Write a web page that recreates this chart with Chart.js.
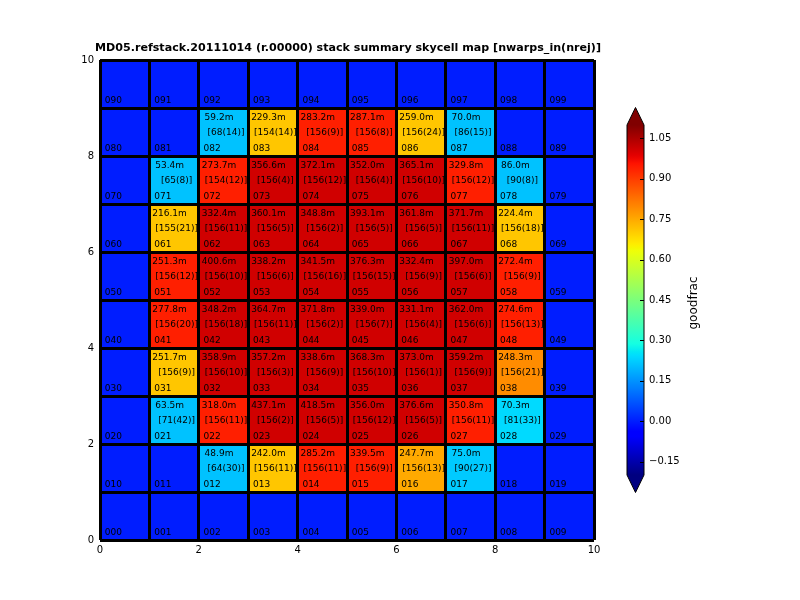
<!DOCTYPE html>
<html><head><meta charset="utf-8">
<script src="https://cdn.jsdelivr.net/npm/chart.js@4/dist/chart.umd.min.js"></script>
<style>
html,body{margin:0;padding:0;background:#fff;}
#wrap{position:relative;width:800px;height:600px;overflow:hidden;}
#main{position:absolute;left:0;top:0;}
#cbar{position:absolute;left:600px;top:0;}
</style></head><body>
<div id="wrap"><canvas id="main" width="800" height="600"></canvas><canvas id="cbar" width="200" height="600"></canvas></div>
<script>
// ---------- DATA (rows from bottom y=0 to top y=9, columns x=0..9) ----------
const titleText = 'MD05.refstack.20111014 (r.00000) stack summary skycell map [nwarps_in(nrej)]';
const gridCols = [0,1,2,3,4,5,6,7,8,9];
const gridRows = [0,1,2,3,4,5,6,7,8,9];
const cellEdges = [0,1,2,3,4,5,6,7,8,9,10];
const axisTicks = [0,2,4,6,8,10];
const N = null;
// stack size in "m"
const stackSize = [
  [N,N,N,N,N,N,N,N,N,N],
  [N,N,48.9,242.0,285.2,339.5,247.7,75.0,N,N],
  [N,63.5,318.0,437.1,418.5,356.0,376.6,350.8,70.3,N],
  [N,251.7,358.9,357.2,338.6,368.3,373.0,359.2,248.3,N],
  [N,277.8,348.2,364.7,371.8,339.0,331.1,362.0,274.6,N],
  [N,251.3,400.6,338.2,341.5,376.3,332.4,397.0,272.4,N],
  [N,216.1,332.4,360.1,348.8,393.1,361.8,371.7,224.4,N],
  [N,53.4,273.7,356.6,372.1,352.0,365.1,329.8,86.0,N],
  [N,N,59.2,229.3,283.2,287.1,259.0,70.0,N,N],
  [N,N,N,N,N,N,N,N,N,N]
];
const nWarpsIn = [
  [N,N,N,N,N,N,N,N,N,N],
  [N,N,64,156,156,156,156,90,N,N],
  [N,71,156,156,156,156,156,156,81,N],
  [N,156,156,156,156,156,156,156,156,N],
  [N,156,156,156,156,156,156,156,156,N],
  [N,156,156,156,156,156,156,156,156,N],
  [N,155,156,156,156,156,156,156,156,N],
  [N,65,154,156,156,156,156,156,90,N],
  [N,N,68,154,156,156,156,86,N,N],
  [N,N,N,N,N,N,N,N,N,N]
];
const nRej = [
  [N,N,N,N,N,N,N,N,N,N],
  [N,N,30,11,11,9,13,27,N,N],
  [N,42,11,2,5,12,5,11,33,N],
  [N,9,10,3,9,10,1,9,21,N],
  [N,20,18,11,2,7,4,6,13,N],
  [N,12,10,6,16,15,9,6,9,N],
  [N,21,11,5,2,5,5,11,18,N],
  [N,8,12,4,12,4,10,12,8,N],
  [N,N,14,14,9,8,24,15,N,N],
  [N,N,N,N,N,N,N,N,N,N]
];
// goodfrac (colour value)
const goodfrac = [
  [0,0,0,0,0,0,0,0,0,0],
  [0,0,0.21,0.71,0.94,0.94,0.75,0.22,0,0],
  [0,0.21,0.94,1.01,1.01,1.01,1.01,0.94,0.24,0],
  [0,0.71,1.01,1.01,1.01,1.01,1.01,1.01,0.79,0],
  [0,0.94,1.01,1.01,1.01,1.01,1.01,1.01,0.94,0],
  [0,0.94,1.01,1.01,1.01,1.01,1.01,1.01,0.94,0],
  [0,0.71,1.01,1.01,1.01,1.01,1.01,1.01,0.71,0],
  [0,0.21,0.94,1.01,1.01,1.01,1.01,0.94,0.21,0],
  [0,0,0.21,0.71,0.94,0.94,0.71,0.21,0,0],
  [0,0,0,0,0,0,0,0,0,0]
];
const cbMin = -0.2, cbMax = 1.1;
const cbTicks = [-0.15, 0.00, 0.15, 0.30, 0.45, 0.60, 0.75, 0.90, 1.05];
const cbLabel = 'goodfrac';

// ---------- jet colormap ----------
const jetSeg = {
  r: [[0,0],[0.35,0],[0.66,1],[0.89,1],[1,0.5]],
  g: [[0,0],[0.125,0],[0.375,1],[0.64,1],[0.91,0],[1,0]],
  b: [[0,0.5],[0.11,1],[0.34,1],[0.65,0],[1,0]]
};
function seg(s, t){
  if (t <= s[0][0]) return s[0][1];
  for (let i=1;i<s.length;i++){
    if (t <= s[i][0]){
      const [x0,y0]=s[i-1],[x1,y1]=s[i];
      return y0 + (y1-y0)*(t-x0)/(x1-x0);
    }
  }
  return s[s.length-1][1];
}
function jet(t){
  t = Math.max(0, Math.min(1, t));
  const r=Math.round(seg(jetSeg.r,t)*255), g=Math.round(seg(jetSeg.g,t)*255), b=Math.round(seg(jetSeg.b,t)*255);
  return `rgb(${r},${g},${b})`;
}
const norm = v => (v - cbMin)/(cbMax - cbMin);

Chart.defaults.font.family = '"DejaVu Sans", sans-serif';
Chart.defaults.color = '#000';

// ---------- main map ----------
const cells = [];
gridRows.forEach(r => gridCols.forEach(c => cells.push({x: c + 0.5, y: [r, r + 1], r, c})));

const cellText = {
  id: 'cellText',
  afterDatasetsDraw(chart){
    const {ctx, scales:{x, y}} = chart;
    ctx.save();
    ctx.font = '9px "DejaVu Sans"';
    ctx.fillStyle = '#000';
    gridRows.forEach(r => gridCols.forEach(c => {
      const L = x.getPixelForValue(c), R = x.getPixelForValue(c + 1);
      const T = y.getPixelForValue(r + 1), B = y.getPixelForValue(r);
      const cx = (L + R) / 2;
      ctx.textBaseline = 'alphabetic';
      if (stackSize[r][c] !== null){
        ctx.textAlign = 'center';
        ctx.fillText(stackSize[r][c].toFixed(1) + 'm', cx - 4.5, T + 12);
        ctx.fillText('[' + nWarpsIn[r][c] + '(' + nRej[r][c] + ')]', cx + 2.5, T + 26.5);
      }
      ctx.textAlign = 'left';
      ctx.fillText(String(r * 10 + c).padStart(3, '0'), L + 4.8, B - 5.3);
    }));
    ctx.restore();
  }
};

const edgeGrid = () => ({ display: true, offset: false, color: '#000', lineWidth: 3, drawTicks: false, z: 1 });

new Chart(document.getElementById('main'), {
  type: 'bar',
  data: { datasets: [{
    data: cells,
    backgroundColor: ctx => ctx.raw ? jet(norm(goodfrac[ctx.raw.r][ctx.raw.c])) : '#00f',
    borderWidth: 0,
    inflateAmount: 0.5,
    categoryPercentage: 1,
    barPercentage: 1,
    grouped: false
  }]},
  options: {
    responsive: false, animation: false,
    layout: { padding: { left: 0, right: 104, top: 0, bottom: 0 } },
    plugins: {
      legend: { display: false }, tooltip: { enabled: false },
      title: { display: true, text: titleText, fullSize: true, color: '#000',
        font: { family: '"DejaVu Sans"', size: 11.1, weight: 'bold' }, padding: { top: 41, bottom: 5.7 } }
    },
    scales: {
      x: { type: 'linear', min: 0, max: 10, offset: false,
        afterBuildTicks: s => { s.ticks = cellEdges.map(v => ({value: v})); },
        afterFit: s => { s.height = 60; },
        grid: edgeGrid(), border: { display: false },
        ticks: { padding: 4, color: '#000', font: { size: 10 }, autoSkip: false, maxRotation: 0,
          callback: v => axisTicks.includes(v) ? String(v) : '' } },
      y: { type: 'linear', min: 0, max: 10,
        afterBuildTicks: s => { s.ticks = cellEdges.map(v => ({value: v})); },
        afterFit: s => { s.width = 100; },
        grid: edgeGrid(), border: { display: false },
        ticks: { padding: 6, color: '#000', font: { size: 10 }, autoSkip: false,
          callback: v => axisTicks.includes(v) ? String(v) : '' } },
      // empty spacer axis reserving the gap between the map and the colour bar
      ySpacer: { type: 'linear', position: 'right', min: 0, max: 1,
        afterFit: s => { s.width = 102; },
        grid: { display: false, drawTicks: false }, border: { display: false },
        ticks: { display: false } }
    }
  },
  plugins: [cellText]
});

// ---------- colorbar ----------
const cbDecor = {
  id: 'cbDecor',
  afterDatasetsDraw(chart){
    const {ctx, chartArea:a, scales:{y}} = chart;
    const L = a.left, R = a.right, cx = (L + R) / 2;
    const T = y.getPixelForValue(cbMax), B = y.getPixelForValue(cbMin);
    const ext = 0.05 * (B - T);
    ctx.save();
    ctx.fillStyle = jet(1);
    ctx.beginPath(); ctx.moveTo(L, T); ctx.lineTo(R, T); ctx.lineTo(cx, T - ext); ctx.closePath(); ctx.fill();
    ctx.fillStyle = jet(0);
    ctx.beginPath(); ctx.moveTo(L, B); ctx.lineTo(R, B); ctx.lineTo(cx, B + ext); ctx.closePath(); ctx.fill();
    ctx.strokeStyle = '#000'; ctx.lineWidth = 1;
    ctx.beginPath();
    ctx.moveTo(L, B); ctx.lineTo(L, T); ctx.lineTo(cx, T - ext); ctx.lineTo(R, T); ctx.lineTo(R, B); ctx.lineTo(cx, B + ext); ctx.closePath();
    ctx.stroke();
    cbTicks.forEach(v => {
      const py = Math.round(y.getPixelForValue(v)) + 0.5;
      ctx.beginPath(); ctx.moveTo(R - 4, py); ctx.lineTo(R, py); ctx.stroke();
    });
    ctx.translate(R + 50, (T + B) / 2 + 3);
    ctx.rotate(-Math.PI / 2);
    ctx.font = '12px "DejaVu Sans"';
    ctx.fillStyle = '#000'; ctx.textAlign = 'center'; ctx.textBaseline = 'middle';
    ctx.fillText(cbLabel, 0, 0);
    ctx.restore();
  }
};

new Chart(document.getElementById('cbar'), {
  type: 'bar',
  data: { labels: [cbLabel], datasets: [{
    data: [[cbMin, cbMax]],
    backgroundColor: ctx => {
      const ch = ctx.chart;
      if (!ch.chartArea) return '#888';
      const ys = ch.scales.y;
      const g = ch.ctx.createLinearGradient(0, ys.getPixelForValue(cbMin), 0, ys.getPixelForValue(cbMax));
      for (let i = 0; i <= 128; i++) g.addColorStop(i / 128, jet(i / 128));
      return g;
    },
    borderWidth: 0, inflateAmount: 0, categoryPercentage: 1, barPercentage: 1
  }]},
  options: {
    responsive: false, animation: false,
    layout: { padding: { left: 27, top: 125, bottom: 125, right: 0 } },
    plugins: { legend: { display: false }, tooltip: { enabled: false } },
    scales: {
      x: { display: false },
      y: { position: 'right', min: cbMin, max: cbMax,
        afterBuildTicks: s => { s.ticks = cbTicks.map(v => ({value: v})); },
        afterFit: s => { s.width = 156; },
        grid: { display: false, drawTicks: false }, border: { display: false },
        ticks: { padding: 5, color: '#000', font: { size: 10 },
          callback: v => (v < 0 ? '\u2212' : '') + Math.abs(v).toFixed(2) } }
    }
  },
  plugins: [cbDecor]
});
</script>
</body></html>
